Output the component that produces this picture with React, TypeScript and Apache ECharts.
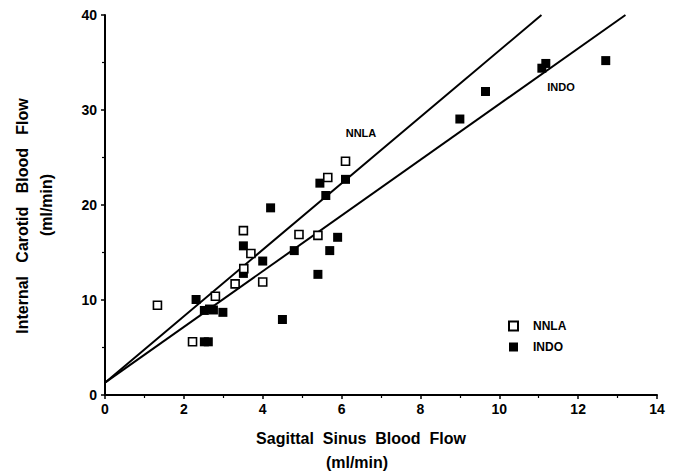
import React, { useEffect, useRef } from "react";
import * as echarts from "echarts";

const xTicks = [0, 2, 4, 6, 8, 10, 12, 14];
const yTicks = [0, 10, 20, 30, 40];

const nnlaPoints: number[][] = [
  [1.33, 9.45], [2.22, 5.6], [2.8, 10.4], [3.3, 11.7], [3.51, 17.3], [3.7, 14.9],
  [3.52, 13.3], [4.0, 11.9], [4.92, 16.9], [5.4, 16.8], [5.65, 22.9], [6.1, 24.6],
];

const indoPoints: number[][] = [
  [2.31, 10.05], [2.52, 8.9], [2.65, 9.05], [2.75, 8.95], [2.52, 5.6], [2.62, 5.6],
  [2.99, 8.7], [3.51, 15.7], [3.51, 12.8], [4.0, 14.1], [4.2, 19.7], [4.5, 7.95],
  [4.8, 15.2], [5.4, 12.7], [5.7, 15.2], [5.9, 16.6], [5.6, 21.0], [5.45, 22.3],
  [6.1, 22.7], [9.0, 29.05], [9.65, 31.95], [11.08, 34.4], [11.18, 34.9], [12.7, 35.2],
];

const nnlaFit: number[][] = [[0, 1.3], [11.07, 40]];
const indoFit: number[][] = [[0, 1.3], [13.2, 40]];

const FONT = "'Liberation Sans', Arial, Helvetica, sans-serif";

export default function App() {
  const ref = useRef<HTMLDivElement>(null);
  useEffect(() => {
    if (!ref.current) return;
    const chart = echarts.init(ref.current, undefined, { renderer: "svg" });
    chart.setOption({
      animation: false,
      backgroundColor: "#ffffff",
      grid: { left: 105, right: 21, top: 15, bottom: 78 },
      xAxis: {
        type: "value",
        min: xTicks[0],
        max: xTicks[xTicks.length - 1],
        interval: 2,
        axisLine: { onZero: false, lineStyle: { color: "#000", width: 2 } },
        axisTick: { inside: false, length: 4, lineStyle: { color: "#000", width: 1.5 } },
        minorTick: { show: true, splitNumber: 2, length: 3, lineStyle: { color: "#000", width: 1.2 } },
        splitLine: { show: false },
        axisLabel: { color: "#000", fontWeight: "bold", fontSize: 14, fontFamily: FONT, margin: 7 },
      },
      yAxis: {
        type: "value",
        min: yTicks[0],
        max: yTicks[yTicks.length - 1],
        interval: 10,
        axisLine: { show: true, onZero: false, lineStyle: { color: "#000", width: 2 } },
        axisTick: { show: true, inside: false, length: 4, lineStyle: { color: "#000", width: 1.5 } },
        minorTick: { show: true, splitNumber: 2, length: 3, lineStyle: { color: "#000", width: 1.2 } },
        splitLine: { show: false },
        axisLabel: { color: "#000", fontWeight: "bold", fontSize: 14, fontFamily: FONT, margin: 8 },
      },
      legend: {
        orient: "vertical",
        left: 503,
        top: 315,
        itemWidth: 9,
        itemHeight: 9,
        itemGap: 9,
        data: ["NNLA", "INDO"],
        textStyle: { color: "#000", fontWeight: "bold", fontSize: 12, fontFamily: FONT, padding: [0, 0, 0, 10] },
      },
      graphic: [
        {
          type: "text",
          x: 22,
          y: 216,
          rotation: Math.PI / 2,
          style: {
            text: "Internal   Carotid   Blood   Flow",
            fill: "#000",
            font: `bold 16px ${FONT}`,
            align: "center",
            verticalAlign: "middle",
          },
        },
        {
          type: "text",
          x: 46,
          y: 205,
          rotation: Math.PI / 2,
          style: {
            text: "(ml/min)",
            fill: "#000",
            font: `bold 16px ${FONT}`,
            align: "center",
            verticalAlign: "middle",
          },
        },
        {
          type: "text",
          x: 361,
          y: 438,
          style: {
            text: "Sagittal  Sinus  Blood  Flow",
            fill: "#000",
            font: `bold 16px ${FONT}`,
            align: "center",
            verticalAlign: "middle",
          },
        },
        {
          type: "text",
          x: 357,
          y: 462,
          style: {
            text: "(ml/min)",
            fill: "#000",
            font: `bold 16px ${FONT}`,
            align: "center",
            verticalAlign: "middle",
          },
        },
        {
          type: "text",
          x: 361,
          y: 133,
          style: { text: "NNLA", fill: "#000", font: `bold 11px ${FONT}`, align: "center", verticalAlign: "middle" },
        },
        {
          type: "text",
          x: 561,
          y: 87,
          style: { text: "INDO", fill: "#000", font: `bold 11px ${FONT}`, align: "center", verticalAlign: "middle" },
        },
      ],
      series: [
        {
          name: "NNLA fit",
          type: "line",
          data: nnlaFit,
          symbol: "none",
          lineStyle: { color: "#000", width: 2 },
          z: 1,
        },
        {
          name: "INDO fit",
          type: "line",
          data: indoFit,
          symbol: "none",
          lineStyle: { color: "#000", width: 2 },
          z: 1,
        },
        {
          name: "INDO",
          type: "scatter",
          data: indoPoints,
          symbol: "rect",
          symbolSize: 9,
          itemStyle: { color: "#000", borderColor: "#000", borderWidth: 0, opacity: 1 },
          z: 3,
        },
        {
          name: "NNLA",
          type: "scatter",
          data: nnlaPoints,
          symbol: "rect",
          symbolSize: 8,
          itemStyle: { color: "#fff", borderColor: "#000", borderWidth: 1.6, opacity: 1 },
          z: 4,
        },
      ],
    });
    return () => chart.dispose();
  }, []);
  return <div ref={ref} style={{ width: 678, height: 473, position: "absolute", left: 0, top: 0 }} />;
}
